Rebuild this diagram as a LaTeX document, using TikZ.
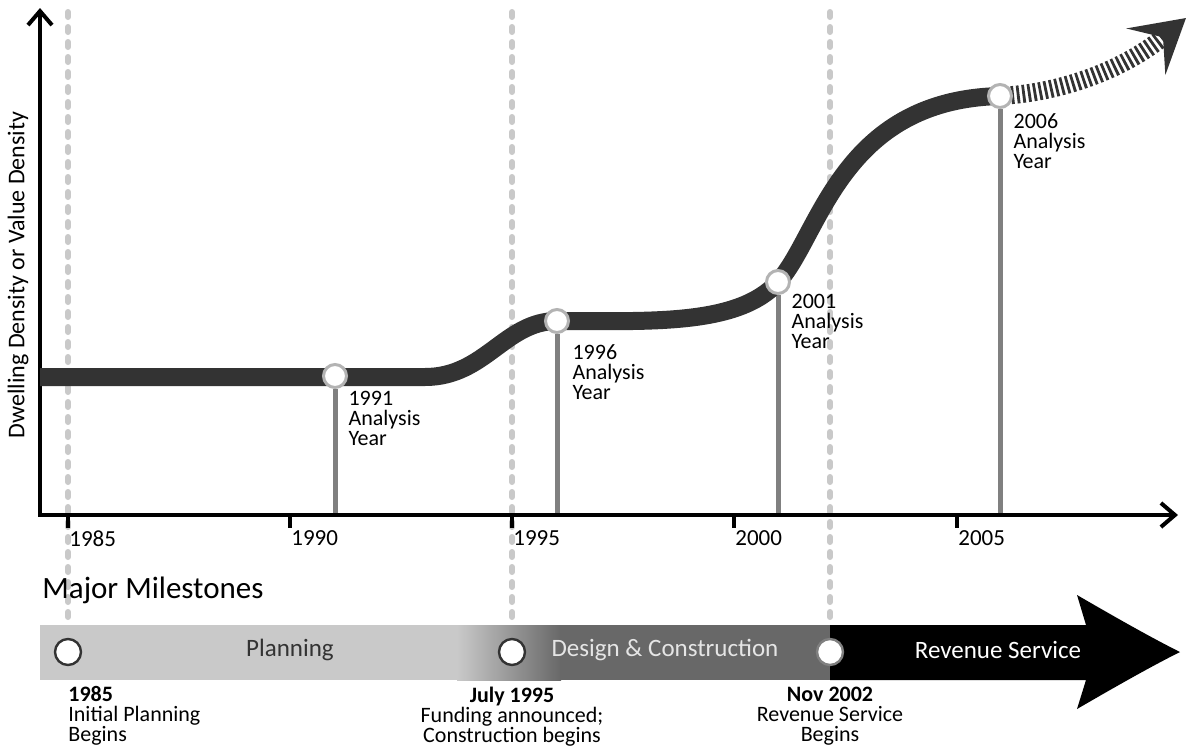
\documentclass[tikz,border=0pt]{standalone}
\usepackage{fontspec}
\setmainfont{Carlito}
\usepackage{xcolor}
\usetikzlibrary{arrows.meta, positioning, backgrounds}
\definecolor{grisoscuro}{HTML}{333333}
\definecolor{gris}{HTML}{808080}
\definecolor{grisclaro}{HTML}{C9C9C9}
\definecolor{grismedio}{HTML}{686868}

\begin{document}
\begin{tikzpicture}[
  x=0.5pt, y=-0.5pt,
  font=\fontsize{11}{10}\selectfont,
  eje/.style={line width=2pt, black},
  guia/.style={grisclaro, line width=3pt, line cap=round, dash pattern=on 2.5pt off 5pt},
  curva/.style={grisoscuro, line width=9pt},
  rayado/.style={grisoscuro, line width=9pt, dash pattern=on 1.4pt off 1.4pt},
  poste/.style={gris, line width=2.5pt},
  hito/.style={circle, fill=white, draw=gris!60, line width=1.5pt, minimum size=11.5pt, inner sep=0pt},
  marca/.style={circle, fill=white, draw=grisoscuro, line width=1.2pt, minimum size=13pt, inner sep=0pt},
  anota/.style={align=left, inner sep=0pt},
  anio/.style={anchor=north west, inner sep=0pt, font=\fontsize{11.5}{11}\selectfont},
  etapa/.style={font=\fontsize{12.5}{12}\selectfont},
  hitolbl/.style={inner sep=0pt, font=\fontsize{11}{10}\selectfont},
]
\useasboundingbox (0,0) rectangle (1191,746);

% --- Ejes ---
\coordinate (origen) at (40,515);
\coordinate (ytop)   at (40,8);
\coordinate (xfin)   at (1178,515);
\coordinate (arriba) at (0,12);
\coordinate (banda)  at (0,625);

\draw[eje, {Straight Barb[length=7pt,width=12pt]}-{Straight Barb[length=7pt,width=12pt]}]
  (ytop) -- (origen) -- (xfin);

\foreach \yr/\xx in {1985/68, 1990/290, 1995/512, 2000/734, 2005/957} {
  \draw[eje] (\xx,515) -- (\xx,528);
  \node[anio] (t\yr) at (\xx+1,530) {\yr};
}

\node[rotate=90, font=\fontsize{12}{12}\selectfont] (ylbl) at (18,275)
  {Dwelling Density or Value Density};

% --- Curva de densidad ---
\draw[curva] (40,377) -- (425,377)
  .. controls (485,377) and (505,321) .. (557,321)
  .. controls (650,321) and (738,326) .. (778,282)
  .. controls (820,236) and (840,100) .. (1000,96);
\draw[rayado, -{Stealth[length=26pt,width=30pt,inset=11pt]}]
  (1000,96) .. controls (1070,92) and (1130,65) .. (1186,18);

\node[hito] (c91) at (335,376) {};
\node[hito] (c96) at (557,321) {};
\node[hito] (c01) at (778,282) {};
\node[hito] (c06) at (1000,96) {};

\node[anota, below right=3pt and 2pt of c91] (a91) {1991\\Analysis\\Year};
\node[anota, below right=7pt and 3pt of c96] (a96) {1996\\Analysis\\Year};
\node[anota, below right=1.5pt and 2pt of c01] (a01) {2001\\Analysis\\Year};
\node[anota, below right=4pt and 2pt of c06] (a06) {2006\\Analysis\\Year};

% --- Hitos ---
\node[anchor=base west, inner sep=0pt, font=\fontsize{15.5}{16}\selectfont] (titulo)
  at (42,598) {Major Milestones};

\fill[grisclaro] (40,625) rectangle (458,680);
\shade[left color=grisclaro, right color=grismedio] (457,625) rectangle (561,680);
\fill[grismedio] (560,625) rectangle (831,680);
\fill[black] (830,625) -- (1086,625) -- (1077,595)
  .. controls (1115,617) and (1150,637) .. (1180,652)
  .. controls (1150,667) and (1115,687) .. (1077,709)
  -- (1086,680) -- (830,680) -- cycle;

\node[etapa, text=grisoscuro] (plan) at (290,650) {Planning};
\node[etapa, text=white!90!black] (obra) at (665,650) {Design \& Construction};
\node[etapa, text=white] (servicio) at (998,650) {Revenue Service};

\node[marca] (m85) at (68,652) {};
\node[marca] (m95) at (512,652) {};
\node[marca, draw=gris] (m02) at (830,652) {};

\node[hitolbl, below=10pt of m85.south, anchor=north west, align=left] (n85)
  {\textbf{1985}\\Initial Planning\\Begins};
\node[hitolbl, below=10pt of m95.south, align=center] (n95)
  {\textbf{July 1995}\\Funding announced;\\Construction begins};
\node[hitolbl, below=10pt of m02.south, align=center] (n02)
  {\textbf{Nov 2002}\\Revenue Service\\Begins};

% --- Guias y postes ---
\begin{scope}[on background layer]
  \foreach \m in {m85, m95, m02}
    \draw[guia] (\m |- arriba) -- (\m |- banda);
  \foreach \c in {c91, c96, c01, c06}
    \draw[poste] (\c) -- (\c |- origen);
\end{scope}

\end{tikzpicture}
\end{document}
